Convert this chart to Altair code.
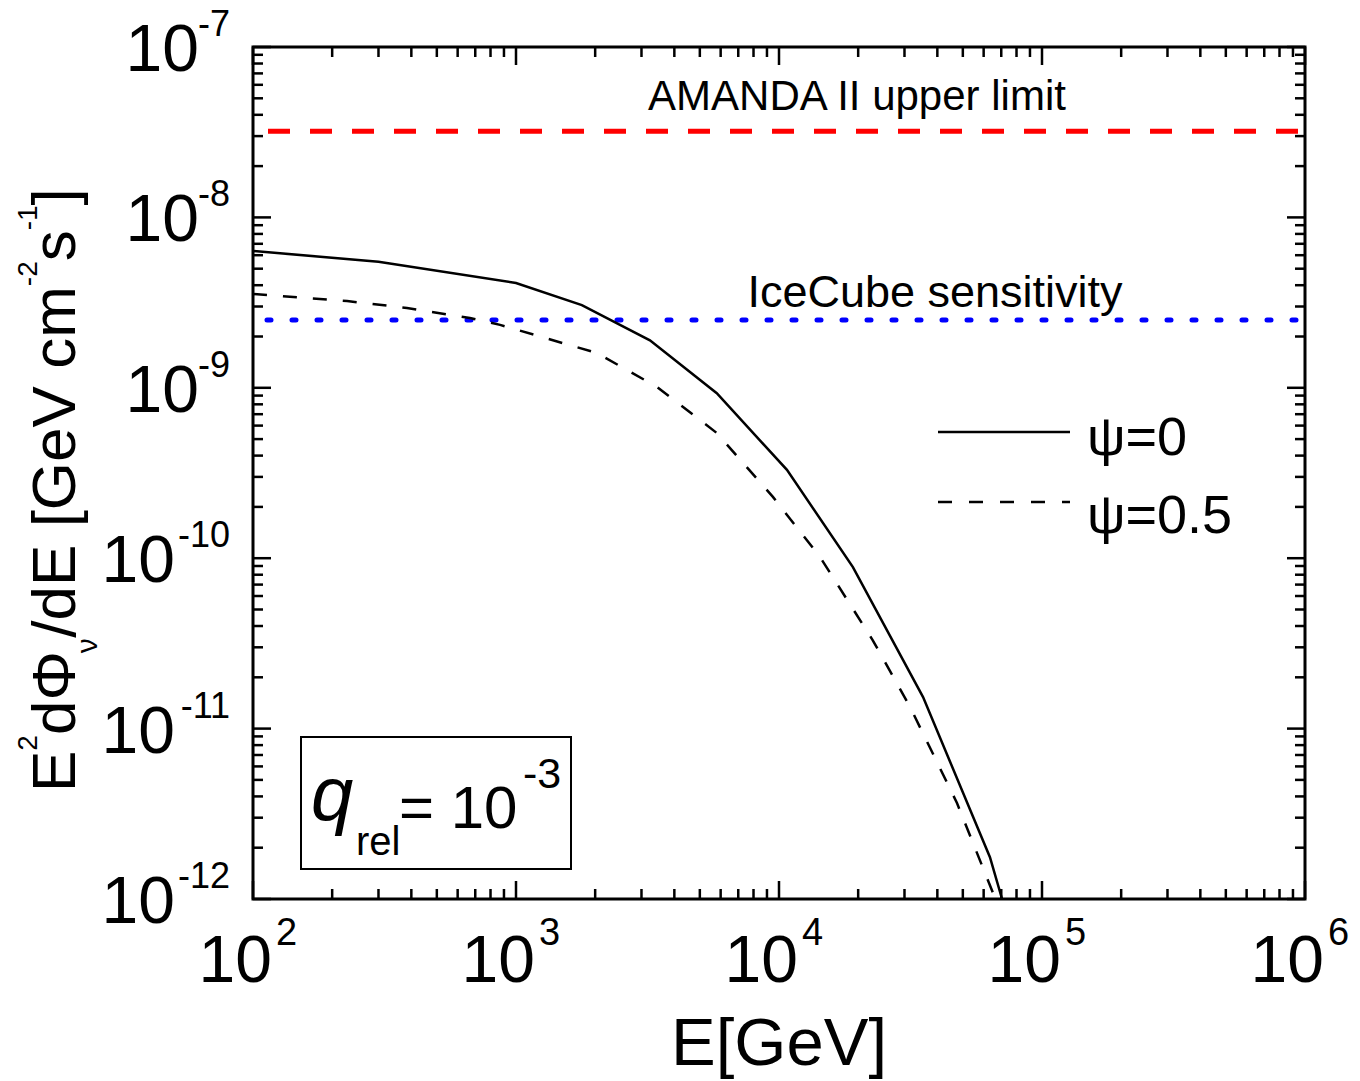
import altair as alt
import pandas as pd

# ---------------- data ----------------
E_psi0 = [100, 300, 1000, 1780, 3230, 5800, 10720, 19100, 35300, 63400, 70500]
flux_psi0 = [6.35e-9, 5.5e-9, 4.12e-9, 3.06e-9, 1.9e-9, 9.3e-10, 3.3e-10, 8.87e-11, 1.53e-11, 1.76e-12, 1.0e-12]

E_psi05 = [100, 228, 385, 668, 870, 2030, 3440, 5800, 9480, 14300, 22700, 31500, 47500, 65200, 66500]
flux_psi05 = [3.55e-9, 3.23e-9, 2.94e-9, 2.57e-9, 2.34e-9, 1.6e-9, 1.01e-9, 5.43e-10, 2.29e-10,
              1.02e-10, 3.31e-11, 1.34e-11, 3.66e-12, 1.08e-12, 1.0e-12]

amanda_limit = [3.2e-8]
icecube_sens = [2.5e-9]

x_major = [1e2, 1e3, 1e4, 1e5, 1e6]
x_exp = ["2", "3", "4", "5", "6"]
x_minor = [m * 10.0 ** k for k in range(2, 6) for m in range(2, 10)]

y_major = [1e-7, 1e-8, 1e-9, 1e-10, 1e-11, 1e-12]
y_exp = ["-7", "-8", "-9", "-10", "-11", "-12"]
y_minor = [m * 10.0 ** k for k in range(-12, -7) for m in range(2, 10)]

# ---------------- layout ----------------
W, H = 1052, 852
FONT = "Liberation Sans"
xs = alt.Scale(type="log", domain=[100, 1e6], nice=False)
ys = alt.Scale(type="log", domain=[1e-12, 1e-7], nice=False)

df_solid = pd.DataFrame({"E": E_psi0, "F": flux_psi0})
df_dash = pd.DataFrame({"E": E_psi05, "F": flux_psi05})
df_xmaj = pd.DataFrame({"v": x_major, "exp": x_exp})
df_xmin = pd.DataFrame({"v": x_minor})
df_ymaj = pd.DataFrame({"v": y_major, "exp": y_exp})
df_ymin = pd.DataFrame({"v": y_minor})

X = lambda f: alt.X(f, type="quantitative", scale=xs, axis=None)
Y = lambda f: alt.Y(f, type="quantitative", scale=ys, axis=None)

layers = []

# reference lines
layers.append(
    alt.Chart(pd.DataFrame({"v": amanda_limit})).mark_rule(
        color="#ff0000", strokeWidth=5, strokeDash=[22, 20], strokeDashOffset=27
    ).encode(y=Y("v"), x=alt.value(0), x2=alt.value(W))
)
layers.append(
    alt.Chart(pd.DataFrame({"v": icecube_sens})).mark_rule(
        color="#0000ff", strokeWidth=5, strokeDash=[4, 21], strokeCap="round", strokeDashOffset=11
    ).encode(y=Y("v"), x=alt.value(0), x2=alt.value(W))
)

# curves
layers.append(
    alt.Chart(df_solid).mark_line(color="black", strokeWidth=2.5, clip=True)
    .encode(x=X("E"), y=Y("F"), order=alt.Order("E:Q"))
)
layers.append(
    alt.Chart(df_dash).mark_line(color="black", strokeWidth=2.5, strokeDash=[14, 16], clip=True)
    .encode(x=X("E"), y=Y("F"), order=alt.Order("E:Q"))
)

# ticks (inside, mirrored)
for df, ln in ((df_xmaj, 18), (df_xmin, 10)):
    layers.append(alt.Chart(df).mark_rule(color="black", strokeWidth=2.5)
                  .encode(x=X("v"), y=alt.value(H), y2=alt.value(H - ln)))
    layers.append(alt.Chart(df).mark_rule(color="black", strokeWidth=2.5)
                  .encode(x=X("v"), y=alt.value(0), y2=alt.value(ln)))
for df, ln in ((df_ymaj, 18), (df_ymin, 10)):
    layers.append(alt.Chart(df).mark_rule(color="black", strokeWidth=2.5)
                  .encode(y=Y("v"), x=alt.value(0), x2=alt.value(ln)))
    layers.append(alt.Chart(df).mark_rule(color="black", strokeWidth=2.5)
                  .encode(y=Y("v"), x=alt.value(W - ln), x2=alt.value(W)))

# x tick labels
layers.append(alt.Chart(df_xmaj).mark_text(align="right", baseline="alphabetic", dx=19,
                                           fontSize=66, font=FONT, color="black")
              .encode(x=X("v"), y=alt.value(H + 83), text=alt.value("10")))
layers.append(alt.Chart(df_xmaj).mark_text(align="left", baseline="alphabetic", dx=23,
                                           fontSize=38, font=FONT, color="black")
              .encode(x=X("v"), y=alt.value(H + 46), text="exp:N"))

# y tick labels
df_y_short = df_ymaj[df_ymaj["exp"].str.len() == 2]
df_y_long = df_ymaj[df_ymaj["exp"].str.len() == 3]
for df, xr in ((df_y_short, -54), (df_y_long, -78)):
    layers.append(alt.Chart(df).mark_text(align="right", baseline="alphabetic", dy=24,
                                          fontSize=66, font=FONT, color="black")
                  .encode(y=Y("v"), x=alt.value(xr), text=alt.value("10")))
layers.append(alt.Chart(df_ymaj).mark_text(align="right", baseline="alphabetic", dy=-11,
                                           fontSize=36, font=FONT, color="black")
              .encode(y=Y("v"), x=alt.value(-23), text="exp:N"))

# x title
layers.append(alt.Chart(pd.DataFrame({"t": ["E[GeV]"]})).mark_text(
    align="center", baseline="alphabetic", fontSize=67, font=FONT, color="black")
    .encode(x=alt.value(W / 2), y=alt.value(H + 166), text="t:N"))

# y title, composed of pieces (rotated)
EM = {"E": .667, "2": .556, "d": .556, "Φ": .764, "ν": .52, "/": .278, " ": .278, "[": .278,
      "G": .778, "e": .556, "V": .667, "c": .5, "m": .833, "s": .5, "-": .333, "1": .556, "]": .278}
F_MAIN, F_SUP, F_SUB = 62, 28, 30
pieces = [("E", "main"), ("2", "sup"), ("dΦ", "main"), ("ν", "sub"), ("/dE [GeV cm", "main"),
          ("-2", "sup"), ("s", "main"), ("-1", "sup"), ("]", "main")]
xpos = {"main": -178, "sup": -216, "sub": -156}
fsz = {"main": F_MAIN, "sup": F_SUP, "sub": F_SUB}
cursor = 745
for txt, kind in pieces:
    layers.append(alt.Chart(pd.DataFrame({"t": [txt]})).mark_text(
        align="left", baseline="alphabetic", angle=270, fontSize=fsz[kind], font=FONT, color="black")
        .encode(x=alt.value(xpos[kind]), y=alt.value(cursor), text="t:N"))
    cursor -= sum(EM.get(ch, .55) for ch in txt) * fsz[kind]

# annotations
layers.append(alt.Chart(pd.DataFrame({"t": ["AMANDA II upper limit"]})).mark_text(
    align="center", baseline="alphabetic", fontSize=42, font=FONT, color="black")
    .encode(x=alt.value(604), y=alt.value(63), text="t:N"))
layers.append(alt.Chart(pd.DataFrame({"t": ["IceCube sensitivity"]})).mark_text(
    align="center", baseline="alphabetic", fontSize=45, font=FONT, color="black")
    .encode(x=alt.value(682), y=alt.value(260), text="t:N"))

# legend
layers.append(alt.Chart(pd.DataFrame({"k": ["ψ=0"]})).mark_rule(color="black", strokeWidth=2.5)
              .encode(x=alt.value(685), x2=alt.value(817), y=alt.value(385)))
layers.append(alt.Chart(pd.DataFrame({"k": ["ψ=0.5"]})).mark_rule(color="black", strokeWidth=2.5,
                                                                   strokeDash=[14, 17])
              .encode(x=alt.value(685), x2=alt.value(817), y=alt.value(455)))
layers.append(alt.Chart(pd.DataFrame({"t": ["ψ=0"]})).mark_text(
    align="left", baseline="alphabetic", fontSize=54, font=FONT, color="black")
    .encode(x=alt.value(834), y=alt.value(408), text="t:N"))
layers.append(alt.Chart(pd.DataFrame({"t": ["ψ=0.5"]})).mark_text(
    align="left", baseline="alphabetic", fontSize=54, font=FONT, color="black")
    .encode(x=alt.value(834), y=alt.value(486), text="t:N"))

# q_rel box
layers.append(alt.Chart(pd.DataFrame({"b": [1]})).mark_rect(fill="white", stroke="black", strokeWidth=2)
              .encode(x=alt.value(48), x2=alt.value(318), y=alt.value(690), y2=alt.value(822)))
box_txt = [("q", 58, 773, 76, "italic"), ("rel", 103, 808, 40, "normal"),
           ("= 10", 146, 781, 60, "normal"), ("-3", 270, 741, 43, "normal")]
for t, xx, yy, fs, st in box_txt:
    layers.append(alt.Chart(pd.DataFrame({"t": [t]})).mark_text(
        align="left", baseline="alphabetic", fontSize=fs, font=FONT, fontStyle=st, color="black")
        .encode(x=alt.value(xx), y=alt.value(yy), text="t:N"))

chart = alt.layer(*layers).properties(
    width=W, height=H,
    autosize=alt.AutoSizeParams(type="none"),
    padding={"left": 253, "top": 47, "right": 55, "bottom": 182},
    background="white",
).configure_view(stroke="black", strokeWidth=3)

chart.save("out.html", embed_options={"renderer": "svg", "actions": False})
